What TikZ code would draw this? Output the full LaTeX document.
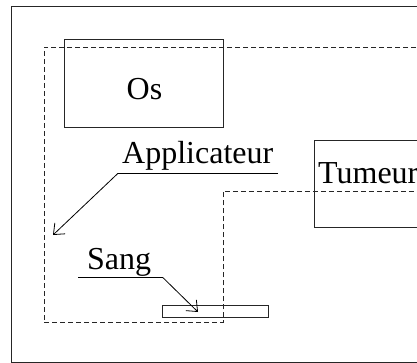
\documentclass[tikz,border=0pt]{standalone}
\usepackage{fontspec}
\setmainfont{Liberation Serif}
\usetikzlibrary{arrows.meta}
\begin{document}
\begin{tikzpicture}[x=1pt,y=-1pt,
  solidline/.style={line width=1pt, draw=black!85},
  dashline/.style={line width=0.9pt, draw=black!85, dash pattern=on 5pt off 3pt},
  lbl/.style={inner sep=0pt, font=\fontsize{32}{38}\selectfont, anchor=base west},
  leader/.style={line width=0.8pt, draw=black},
  tip/.style={-{Straight Barb[length=9pt,width=15pt,line width=0.8pt]}}]
\useasboundingbox (0,0) rectangle (417,363);
\clip (0,0) rectangle (417,363);
% outer frame
\draw[solidline] (11,7) rectangle (440,362);
% dashed applicator region
\draw[dashline] (440,47) -- (44,47) -- (44,322.7) -- (223,322.7) -- (223,191.3) -- (440,191.3);
% bone box
\node[solidline, draw, rectangle, minimum width=159pt, minimum height=88pt, inner sep=0pt] (os) at (143.5,84) {};
\node[lbl, anchor=base] (ostext) at (144.5,99.5) {Os};
% tumour box
\draw[solidline] (440,141) -- (314.3,141) -- (314.3,227.7) -- (440,227.7);
\coordinate (tumeurbox) at (314.3,141);
\node[lbl] (tumeur) at (318,183.3) {Tumeur};
% blood vessel strip
\node[solidline, draw, rectangle, minimum width=106pt, minimum height=11.6pt, inner sep=0pt] (vessel) at (215,311.5) {};
% labels
\node[lbl] (applicateur) at (122,163.3) {Applicateur};
\node[lbl] (sang) at (87,269.3) {Sang};
% leader lines
\coordinate (appL) at (118,173.3);
\coordinate (appR) at (278,173.3);
\coordinate (appTip) at (53,235);
\draw[leader] (appR) -- (appL);
\draw[leader, tip] (appL) -- (appTip);
\coordinate (sangL) at (78,277.7);
\coordinate (sangR) at (163,277.7);
\coordinate (sangTip) at (198,312);
\draw[leader] (sangL) -- (sangR);
\draw[leader, tip] (sangR) -- (sangTip);
\end{tikzpicture}
\end{document}
